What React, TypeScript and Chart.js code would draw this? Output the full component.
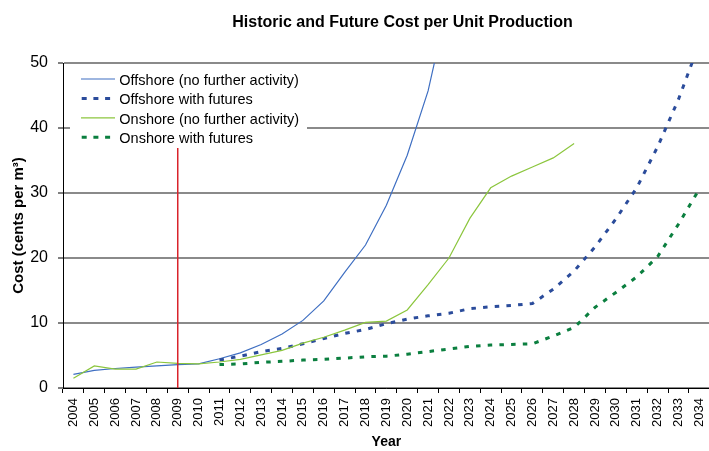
import React, { useEffect, useRef } from "react";
import { Chart, registerables } from "chart.js";

Chart.register(...registerables);

const FONT = "'Liberation Sans', Arial, Helvetica, sans-serif";

const TITLE = "Historic and Future Cost per Unit Production";
const Y_TITLE = "Cost (cents per m³)";
const X_TITLE = "Year";

const years = [
  "2004", "2005", "2006", "2007", "2008", "2009", "2010", "2011", "2012", "2013",
  "2014", "2015", "2016", "2017", "2018", "2019", "2020", "2021", "2022", "2023",
  "2024", "2025", "2026", "2027", "2028", "2029", "2030", "2031", "2032", "2033",
  "2034",
];

const yTicks = [0, 10, 20, 30, 40, 50];

// Offshore (no further activity), from 2004
const offshoreStart = "2004";
const offshoreNoFurther = [
  2.1, 2.7, 3.0, 3.2, 3.4, 3.6, 3.7, 4.5, 5.4, 6.7,
  8.3, 10.4, 13.4, 17.8, 22.0, 28.1, 35.8, 45.7, 60.0,
];

// Offshore with futures, from 2011
const offshoreFuturesStart = "2011";
const offshoreFutures = [
  4.3, 4.9, 5.6, 6.1, 6.8, 7.6, 8.4, 9.0, 9.9, 10.6,
  11.1, 11.5, 12.2, 12.5, 12.7, 13.0, 15.2, 18.0, 21.7, 26.0,
  30.8, 37.1, 44.4, 53.0,
];

// Onshore (no further activity), from 2004
const onshoreStart = "2004";
const onshoreNoFurther = [
  1.5, 3.4, 2.9, 2.9, 4.0, 3.8, 3.7, 4.0, 4.4, 5.1,
  5.8, 6.9, 7.8, 8.9, 10.1, 10.3, 12.0, 15.9, 20.0, 26.1,
  30.8, 32.6, 34.0, 35.4, 37.6,
];

// Onshore with futures, from 2011
const onshoreFuturesStart = "2011";
const onshoreFutures = [
  3.6, 3.7, 3.95, 4.1, 4.3, 4.4, 4.6, 4.8, 4.9, 5.2,
  5.6, 6.0, 6.4, 6.6, 6.7, 6.8, 8.0, 9.3, 12.4, 14.7,
  17.1, 20.2, 25.2, 30.6,
];

// Vertical marker (present year)
const markerYears = ["2009", "2009"];
const markerValues = [0, 37];

const seriesNames = [
  "Offshore (no further activity)",
  "Offshore with futures",
  "Onshore (no further activity)",
  "Onshore with futures",
];

function place(startYear: string, values: number[]) {
  const start = years.indexOf(startYear);
  return years.map((_, i) =>
    i >= start && i - start < values.length ? values[i - start] : null
  );
}

const overlayPlugin = {
  id: "overlay",
  afterDatasetsDraw(chart: any) {
    const { ctx, chartArea } = chart;
    ctx.save();
    // Title
    ctx.font = `bold 16px ${FONT}`;
    ctx.fillStyle = "#000";
    ctx.textAlign = "center";
    ctx.textBaseline = "alphabetic";
    ctx.fillText(TITLE, 402.5, 26.5);

    // Legend box
    const bx = chartArea.left + 7;
    const by = chartArea.top + 3;
    ctx.fillStyle = "#fff";
    ctx.fillRect(bx, by, 237, 82);

    const dsList = chart.data.datasets.slice(0, 4);
    dsList.forEach((ds: any, i: number) => {
      const ry = chartArea.top + 16 + i * 19.4;
      ctx.save();
      ctx.strokeStyle = ds.borderColor;
      ctx.lineWidth = ds.borderDash ? 3 : 1.2;
      ctx.lineCap = "butt";
      ctx.beginPath();
      if (ds.borderDash) {
        ctx.setLineDash([5, 6.7]);
        ctx.moveTo(bx + 11.7, ry);
        ctx.lineTo(bx + 41, ry);
      } else {
        ctx.moveTo(bx + 11, ry);
        ctx.lineTo(bx + 45, ry);
      }
      ctx.stroke();
      ctx.restore();
      ctx.font = `14.5px ${FONT}`;
      ctx.fillStyle = "#000";
      ctx.textAlign = "left";
      ctx.textBaseline = "alphabetic";
      ctx.fillText(ds.label, bx + 49.3, ry + 6);
    });
    ctx.restore();
  },
};

export default function App() {
  const canvasRef = useRef<HTMLCanvasElement | null>(null);

  useEffect(() => {
    if (!canvasRef.current) return;
    const chart = new Chart(canvasRef.current, {
      type: "line",
      data: {
        labels: years,
        datasets: [
          {
            label: seriesNames[0],
            data: place(offshoreStart, offshoreNoFurther),
            borderColor: "#3F6FC2",
            borderWidth: 1.2,
            pointRadius: 0,
            tension: 0,
            order: 4,
          },
          {
            label: seriesNames[1],
            data: place(offshoreFuturesStart, offshoreFutures),
            borderColor: "#2B4C9B",
            borderWidth: 3,
            borderDash: [4.5, 7.2],
            borderCapStyle: "butt",
            pointRadius: 0,
            tension: 0,
            order: 3,
          },
          {
            label: seriesNames[2],
            data: place(onshoreStart, onshoreNoFurther),
            borderColor: "#8CC63E",
            borderWidth: 1.2,
            pointRadius: 0,
            tension: 0,
            order: 2,
          },
          {
            label: seriesNames[3],
            data: place(onshoreFuturesStart, onshoreFutures),
            borderColor: "#0B7F3F",
            borderWidth: 3,
            borderDash: [4.5, 7.2],
            borderCapStyle: "butt",
            pointRadius: 0,
            tension: 0,
            order: 1,
          },
          {
            label: "marker",
            data: markerYears.map((x, i) => ({ x, y: markerValues[i] })),
            borderColor: "#D9232B",
            borderWidth: 1.5,
            pointRadius: 0,
            tension: 0,
            order: 0,
          },
        ],
      } as any,
      options: {
        animation: false,
        responsive: false,
        maintainAspectRatio: false,
        spanGaps: false,
        layout: { padding: { left: 0, right: 6, top: 63, bottom: 0 } },
        plugins: {
          legend: { display: false },
          title: { display: false },
          tooltip: { enabled: false },
        },
        scales: {
          x: {
            type: "category",
            offset: true,
            afterFit: (scale: any) => {
              scale.height = 63;
            },
            grid: {
              display: true,
              offset: true,
              drawOnChartArea: false,
              drawTicks: true,
              tickLength: 5,
              tickColor: "#000",
              tickWidth: 1,
            },
            border: { display: true, color: "#000", width: 1 },
            ticks: {
              autoSkip: false,
              minRotation: 90,
              maxRotation: 90,
              padding: 5,
              color: "#000",
              font: { size: 13, family: FONT },
            },
            title: {
              display: true,
              text: X_TITLE,
              color: "#000",
              font: { size: 14, weight: "bold", family: FONT },
              padding: { top: 0, bottom: 0 },
            },
          },
          y: {
            min: yTicks[0],
            max: yTicks[yTicks.length - 1],
            afterFit: (scale: any) => {
              scale.width = 63;
            },
            afterBuildTicks: (scale: any) => {
              scale.ticks = yTicks.map((v) => ({ value: v }));
            },
            grid: {
              color: "#8a8a8a",
              lineWidth: 2,
              drawTicks: true,
              tickLength: 5,
              tickColor: "#000",
              tickWidth: 1,
            },
            border: { display: true, color: "#000", width: 1 },
            ticks: {
              padding: 10,
              color: "#000",
              font: { size: 16, family: FONT },
            },
            title: {
              display: true,
              text: Y_TITLE,
              color: "#000",
              font: { size: 15, weight: "bold", family: FONT },
              padding: { top: 10, bottom: 0 },
            },
          },
        },
      } as any,
      plugins: [overlayPlugin],
    });
    return () => chart.destroy();
  }, []);

  return (
    <div
      style={{
        position: "fixed",
        left: 0,
        top: 0,
        width: 709,
        height: 451,
        overflow: "hidden",
        background: "#fff",
      }}
    >
      <canvas ref={canvasRef} width={720} height={451} style={{ display: "block" }} />
    </div>
  );
}
